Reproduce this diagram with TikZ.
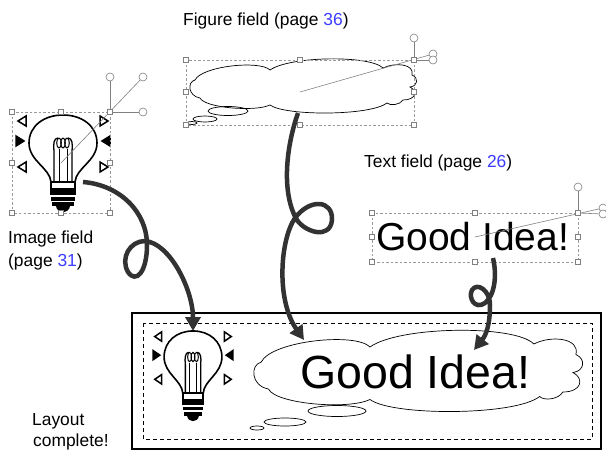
\documentclass[tikz,border=0pt]{standalone}
\usepackage{fontspec}
\setmainfont{Liberation Sans}
\usetikzlibrary{arrows.meta}

\definecolor{pageblue}{RGB}{60,60,255}
\definecolor{flowgray}{RGB}{50,50,50}

\tikzset{
  selbox/.style={draw=gray!80,dash pattern=on 2.5pt off 2pt,line width=0.6pt},
  grip/.style={draw=gray,fill=white,inner sep=0pt,minimum size=5.5pt,line width=0.6pt},
  knob/.style={circle,draw=gray,fill=white,inner sep=0pt,minimum size=8pt,line width=0.6pt},
  guide/.style={draw=gray,line width=0.6pt},
  fieldtext/.style={anchor=base west,inner sep=0pt,font=\fontsize{17.4}{21}\selectfont},
  flow/.style={draw=flowgray,line width=4.5pt,-{Triangle[length=14pt,width=15pt]}},
  puff/.style={draw,line width=0.7pt},
  thought/.pic={
    \draw[puff,fill=white] (5,20) .. controls (12,6) and (70,0) .. (80,10)
      .. controls (100,-4) and (180,-5) .. (193,8)
      .. controls (205,2) and (225,4) .. (222,15)
      .. controls (229,18) and (228,26) .. (220,27)
      .. controls (228,31) and (226,40) .. (213,40)
      .. controls (210,45) and (200,46) .. (197,43)
      .. controls (180,56) and (95,56) .. (80,45)
      .. controls (65,52) and (15,48) .. (10,38)
      .. controls (-2,36) and (-3,22) .. (5,20) -- cycle;
  },
  bulb/.pic={
    % rays
    \foreach \s in {1,-1} {
      \draw[xscale=\s,line width=1.5pt,line join=miter] (-45,-22) -- (-37,-27) -- (-37,-17) -- cycle;
      \draw[xscale=\s,line width=1.5pt,fill=black] (-47,-7) -- (-47,3) -- (-39,-2) -- cycle;
      \draw[xscale=\s,line width=1.5pt,line join=miter] (-45,24) -- (-37,19) -- (-37,29) -- cycle;
    }
    % glass
    \draw[line width=1.6pt,fill=white] (-12,39) .. controls (-13,25) and (-34,18) .. (-34,0)
      .. controls (-34,-17) and (-19,-28) .. (0,-28)
      .. controls (19,-28) and (34,-17) .. (34,0)
      .. controls (34,18) and (13,25) .. (12,39);
    % filament
    \draw[line width=1.3pt] (-9,39) -- (-9,8) .. controls (-10,1) and (-9,-5) .. (-5,-5);
    \draw[line width=1.3pt] (9,39) -- (9,8) .. controls (10,1) and (9,-5) .. (5,-5);
    \draw[line width=1pt] (-4,39) -- (-4,6);
    \draw[line width=1pt] (4,39) -- (4,6);
    \foreach \cx in {-4,0,4}
      \draw[line width=1pt] (\cx,0) ellipse [x radius=2.3, y radius=5];
    % screw base
    \draw[line width=1.6pt,fill=white] (-12,39) rectangle (12,46);
    \fill (-13,47) rectangle (13,52);
    \fill (-12,53.5) rectangle (12,57.5);
    \fill (-11,59) rectangle (11,63);
    \fill (-7,63) .. controls (-6,71) and (6,71) .. (7,63) -- cycle;
  }
}

\begin{document}
\begin{tikzpicture}[x=1pt,y=-1pt]
  \useasboundingbox (0,0) rectangle (606,451);

  % labels
  \node[fieldtext] (figlabel) at (183,25) {Figure field (page \textcolor{pageblue}{36})};
  \node[fieldtext] (txtlabel) at (364,167) {Text field (page \textcolor{pageblue}{26})};
  \node[fieldtext] (imglabel) at (8,243) {Image field};
  \node[fieldtext] (imgpage) at (8,266) {(page \textcolor{pageblue}{31})};
  \node[fieldtext] (lay1) at (32,425) {Layout};
  \node[fieldtext] (lay2) at (33,446) {complete!};

  %% image field
  \pic at (63,143) {bulb};
  \draw[selbox] (12,112) rectangle (110,213);
  \node[knob] (ik1) at (110,77) {};
  \node[knob] (ik2) at (143,77) {};
  \node[knob] (ik3) at (143,112) {};
  \coordinate (ic) at (61,163);
  \draw[guide] (110,112) -- (ik1);
  \draw[guide] (110,112) -- (ik3);
  \draw[guide] (ic) -- (ik2);
  \foreach \n/\x/\y in {1/12/112,2/61/112,3/110/112,4/12/163,5/110/163,6/12/213,7/61/213,8/110/213}
    \node[grip] (ih\n) at (\x,\y) {};

  %% figure field
  \pic at (190,60) {thought};
  \draw[puff] (228,111) ellipse [x radius=20, y radius=4.5];
  \draw[puff] (205,119) ellipse [x radius=12, y radius=3];
  \draw[puff] (192,123) ellipse [x radius=5, y radius=1.5];
  \draw[selbox] (186,60) rectangle (414,125);
  \node[knob] (fk1) at (414,38) {};
  \node[knob] (fk2) at (433,54) {};
  \node[knob] (fk3) at (433,60) {};
  \coordinate (fc) at (300,92);
  \draw[guide] (414,60) -- (fk1);
  \draw[guide] (414,60) -- (fk3);
  \draw[guide] (fc) -- (fk2);
  \foreach \n/\x/\y in {1/186/60,2/300/60,3/414/60,4/186/92,5/414/92,6/186/125,7/300/125,8/414/125}
    \node[grip] (fh\n) at (\x,\y) {};

  %% text field
  \node[anchor=base west,inner sep=0pt,font=\fontsize{39}{39}\selectfont] (ftext) at (376,250) {Good Idea!};
  \draw[selbox] (372,213) rectangle (578,262);
  \node[knob] (tk1) at (578,187) {};
  \node[knob] (tk2) at (603,208) {};
  \node[knob] (tk3) at (603,214) {};
  \coordinate (tc) at (475,237);
  \draw[guide] (578,213) -- (tk1);
  \draw[guide] (578,213) -- (tk3);
  \draw[guide] (tc) -- (tk2);
  \foreach \n/\x/\y in {1/372/213,2/475/213,3/578/213,4/372/237,5/578/237,6/372/262,7/475/262,8/578/262}
    \node[grip] (th\n) at (\x,\y) {};

  %% finished layout
  \draw[line width=2pt] (132,313) rectangle (601,449);
  \draw[line width=0.8pt,dash pattern=on 4pt off 3pt] (143,323) rectangle (592,439);
  \pic[xscale=0.85,yscale=0.93] at (193,357) {bulb};
  \pic[xscale=1.45,yscale=1.5] at (254,332) {thought};
  \draw[puff] (337,411) ellipse [x radius=29, y radius=5.5];
  \draw[puff] (285,422) ellipse [x radius=21, y radius=4];
  \draw[puff] (257,428) ellipse [x radius=7, y radius=2];
  \node[anchor=base west,inner sep=0pt,font=\fontsize{46.5}{46.5}\selectfont] (ltext) at (300,388) {Good Idea!};

  %% flow arrows
  \coordinate (a1) at (83,182);
  \coordinate (b1) at (193,331);
  \draw[flow] (a1) .. controls (120,185) and (147,212) .. (147,245)
    .. controls (147,272) and (136,284) .. (128,272)
    .. controls (120,258) and (130,241) .. (145,241)
    .. controls (170,243) and (193,290) .. (b1);
  \coordinate (a2) at (298,113);
  \coordinate (b2) at (304,340);
  \draw[flow] (a2) .. controls (285,150) and (282,195) .. (297,220)
    .. controls (305,232) and (330,240) .. (332,220)
    .. controls (333,200) and (310,198) .. (295,218)
    .. controls (280,240) and (276,300) .. (b2);
  \coordinate (a3) at (493,258);
  \coordinate (b3) at (474,350);
  \draw[flow] (a3) .. controls (497,275) and (495,295) .. (485,303)
    .. controls (475,310) and (468,298) .. (472,290)
    .. controls (477,282) and (490,290) .. (490,305)
    .. controls (490,325) and (486,335) .. (b3);
\end{tikzpicture}
\end{document}
